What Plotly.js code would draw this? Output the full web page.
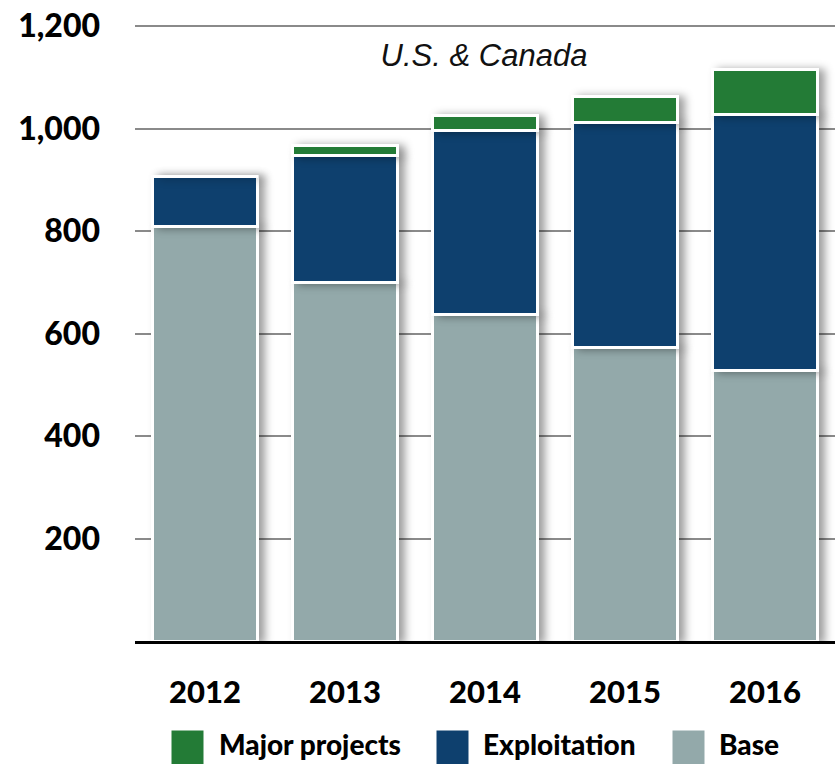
<!DOCTYPE html>
<html>
<head>
<meta charset="utf-8">
<script src="https://cdn.plot.ly/plotly-3.0.1.min.js"></script>
<style>
  html, body { margin: 0; padding: 0; background: #fff; }
  #chart { width: 835px; height: 764px; }
  .barlayer .point path { filter: drop-shadow(6px 1px 4px rgba(0,0,0,0.38)); }
</style>
</head>
<body>
<div id="chart"></div>
<script>
// ---- data ----
const years = ['2012', '2013', '2014', '2015', '2016'];
const baseValues = [808, 700, 638, 573, 527];
const exploitationValues = [98, 248, 359, 439, 501];
const majorProjectValues = [0, 18, 29, 50, 87];
const seriesNames = ['Base', 'Exploitation', 'Major projects'];
const seriesColors = ['#93A9AA', '#0E406E', '#237B36'];
const yTickValues = [200, 400, 600, 800, 1000, 1200];
const yTickLabels = ['200', '400', '600', '800', '1,000', '1,200'];
const chartTitle = 'U.S. &amp; Canada';

const seriesValues = [baseValues, exploitationValues, majorProjectValues];

const traces = seriesValues.map((vals, i) => ({
  type: 'bar',
  name: seriesNames[i],
  x: years,
  y: vals,
  marker: { color: seriesColors[i], line: { color: '#ffffff', width: 3 } },
  showlegend: false,
  hoverinfo: 'x+y+name'
}));

// custom legend (large squares) built from series names/colours
const W = 835, H = 764, L = 135, R = 0, T = 24, B = 123;
const pw = W - L - R, ph = H - T - B;
const px = v => (v - L) / pw;
const py = v => (H - B - v) / ph;
const legendOrder = [2, 1, 0];
const squareLeft = [170, 435, 671];
const textLeft = [217, 481, 717];
const shapes = [];
const annotations = [];
legendOrder.forEach((si, k) => {
  shapes.push({
    type: 'rect', xref: 'paper', yref: 'paper',
    x0: px(squareLeft[k]), x1: px(squareLeft[k] + 35),
    y0: py(729), y1: py(767),
    fillcolor: seriesColors[si],
    line: { color: '#ffffff', width: 3 }
  });
  annotations.push({
    xref: 'paper', yref: 'paper',
    x: px(textLeft[k]), y: py(744),
    xanchor: 'left', yanchor: 'middle',
    text: seriesNames[si], showarrow: false,
    font: { family: 'Lato, "Open Sans", sans-serif', size: 28, color: '#000', weight: 900 }
  });
});

const layout = {
  width: W, height: H,
  margin: { l: L, r: R, t: T, b: B, pad: 0 },
  paper_bgcolor: '#ffffff', plot_bgcolor: '#ffffff',
  barmode: 'stack',
  bargap: 0.25,
  title: {
    text: chartTitle,
    font: { family: '"Liberation Sans", Arial, sans-serif', size: 31, style: 'italic', color: '#111' },
    x: (L + pw / 2 - 1) / W, xref: 'container', xanchor: 'center',
    y: 1 - 55 / H, yref: 'container', yanchor: 'middle'
  },
  xaxis: {
    type: 'category',
    range: [-0.5, 4.5],
    showgrid: false,
    showline: true, linecolor: '#000', linewidth: 3,
    ticks: '', ticklabelstandoff: 22,
    tickfont: { family: 'Lato, "Open Sans", sans-serif', size: 31, color: '#000', weight: 900 },
    fixedrange: true
  },
  yaxis: {
    range: [0, 1204],
    tickmode: 'array', tickvals: yTickValues, ticktext: yTickLabels,
    showgrid: true, gridcolor: '#8a8a8a', gridwidth: 2,
    zeroline: false, showline: false,
    ticks: '', ticklabelstandoff: 34,
    tickfont: { family: 'Lato, "Open Sans", sans-serif', size: 32, color: '#000', weight: 900 },
    fixedrange: true
  },
  shapes: shapes,
  annotations: annotations,
  showlegend: false
};

Plotly.newPlot('chart', traces, layout, { displayModeBar: false, staticPlot: true });
</script>
</body>
</html>
